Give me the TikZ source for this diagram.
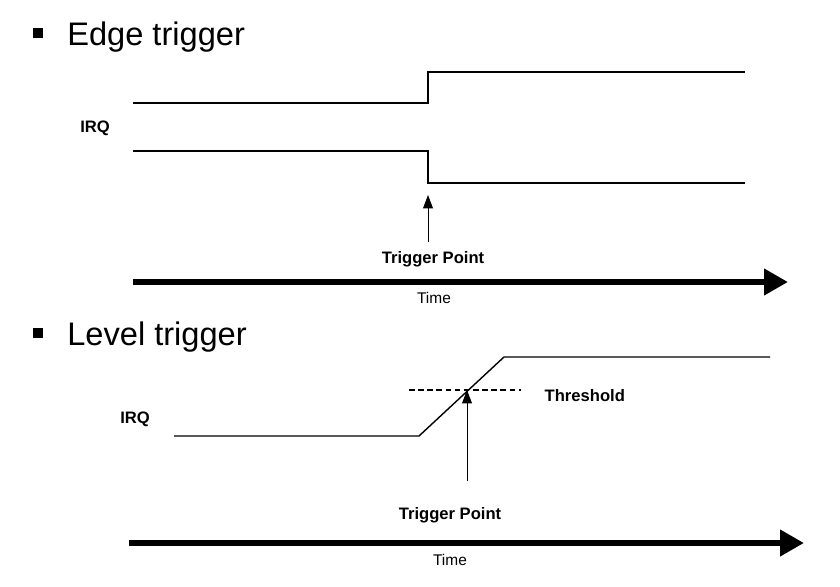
\documentclass[tikz,border=0pt]{standalone}
\usepackage{fontspec}
\setmainfont{Liberation Sans}
\usetikzlibrary{arrows.meta}
\usetikzlibrary{positioning}
\tikzset{
  signal/.style={line width=1pt},
  threshold/.style={line width=0.8pt,dash pattern=on 4pt off 2.5pt},
  trigger/.style={-{Triangle[length=9.5pt,width=7pt]},line width=0.7pt},
  timeaxis/.style={-{Triangle[length=17pt,width=18pt]},line width=4.4pt},
  bullet/.style={rectangle,fill=black,minimum size=2.4mm,inner sep=0pt},
  heading/.style={font=\fontsize{23.2}{28}\selectfont,anchor=base west,inner sep=0pt},
  tag/.style={font=\bfseries\fontsize{11.8}{14}\selectfont,inner sep=1pt},
  timetag/.style={font=\fontsize{11}{13}\selectfont,inner sep=1pt}
}
\begin{document}
\begin{tikzpicture}[x=0.025cm,y=-0.025cm]
      \useasboundingbox (0,0) rectangle (840,586);
      % edge trigger
      \node (b1) [bullet] at (38,33) {};
      \node (edge) [heading] at (67,45) {Edge trigger};
      \draw[signal] (133,103) -- (428,103) -- (428,72) -- (745,72);
      \draw[signal] (133,151) -- (428,151) -- (428,183) -- (745,183);
      \node (irq1) [tag] at (95,128) {IRQ};
      \coordinate (tail1) at (428,242);
      \coordinate (tip1) at (428,195);
      \draw[trigger] (tail1) -- (tip1);
      \node (trig1) [tag] at (433,259) {Trigger Point};
      \coordinate (start1) at (133,282);
      \coordinate (end1) at (788,282);
      \draw[timeaxis] (start1) -- (end1);
      \node (time1) [timetag] at (434,298) {Time};
      % level trigger
      \node (b2) [bullet] at (38,333) {};
      \node (level) [heading] at (67,345) {Level trigger};
      \draw[signal] (174,436) -- (419,436) -- (504,357) -- (770,357);
      \draw[threshold] (409,390) -- (521,390);
      \node (thr) [tag,anchor=west] at (543,396) {Threshold};
      \node (irq2) [tag] at (135,419) {IRQ};
      \coordinate (tail2) at (467,481);
      \coordinate (tip2) at (467,390);
      \draw[trigger] (tail2) -- (tip2);
      \node (trig2) [tag] at (450,515) {Trigger Point};
      \coordinate (start2) at (129,543);
      \coordinate (end2) at (804,543);
      \draw[timeaxis] (start2) -- (end2);
      \node (time2) [timetag] at (450,560) {Time};
\end{tikzpicture}
\end{document}
